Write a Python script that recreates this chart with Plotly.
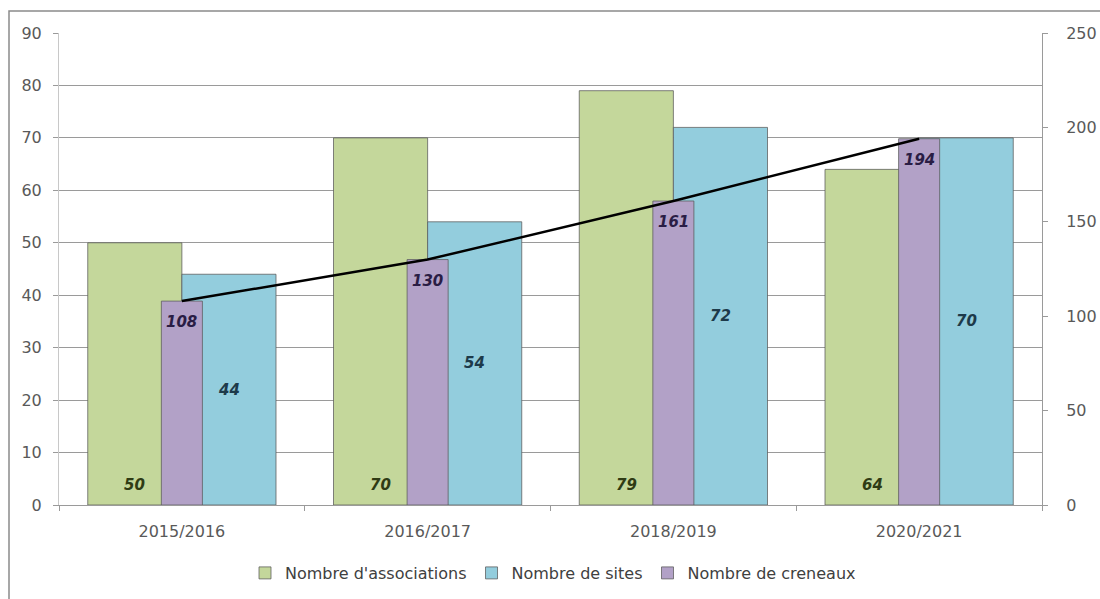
import plotly.graph_objects as go

# Seasons and series values
saisons = ["2015/2016", "2016/2017", "2018/2019", "2020/2021"]
associations = [50, 70, 79, 64]
sites = [44, 54, 72, 70]
creneaux = [108, 130, 161, 194]

VERT = "#c4d79b"
BLEU = "#93cddd"
VIOLET = "#b2a1c7"
CONTOUR = "rgba(90,90,90,0.75)"
TXT = "#595959"

x = list(range(len(saisons)))
w_main = 0.383
w_cren = 0.167

fig = go.Figure()

fig.add_trace(go.Bar(
    x=x, y=associations, name="Nombre d'associations",
    width=w_main, offset=-w_main,
    marker=dict(color=VERT, line=dict(color=CONTOUR, width=1)),
    yaxis="y",
))
fig.add_trace(go.Bar(
    x=x, y=sites, name="Nombre de sites",
    width=w_main, offset=0,
    marker=dict(color=BLEU, line=dict(color=CONTOUR, width=1)),
    yaxis="y",
))
fig.add_trace(go.Bar(
    x=x, y=creneaux, name="Nombre de creneaux",
    width=w_cren, offset=-w_cren / 2,
    marker=dict(color=VIOLET, line=dict(color=CONTOUR, width=1)),
    yaxis="y2",
))
fig.add_trace(go.Scatter(
    x=x, y=creneaux, mode="lines", showlegend=False,
    line=dict(color="black", width=2.5),
    yaxis="y2",
))

# Value labels (bold italic)
lab_font = dict(family="DejaVu Sans", size=15)
ann = []
for i in x:
    ann.append(dict(x=i - w_main / 2, y=0, xref="x", yref="y",
                    text=f"<b><i>{associations[i]}</i></b>", showarrow=False,
                    yshift=20, font=dict(lab_font, color="#2f3b14")))
    ann.append(dict(x=i + w_main / 2, y=sites[i] / 2, xref="x", yref="y",
                    text=f"<b><i>{sites[i]}</i></b>", showarrow=False,
                    font=dict(lab_font, color="#1d3a4a")))
    ann.append(dict(x=i, y=creneaux[i], xref="x", yref="y2",
                    text=f"<b><i>{creneaux[i]}</i></b>", showarrow=False,
                    yshift=-21, font=dict(lab_font, color="#2a1d45")))

# Outer chart-area frame
L, R, T, B = 59, 1042, 33, 505
def px_x(p):
    return (p - L) / (R - L)
def px_y(p):
    return (B - p) / (B - T)

fig.update_layout(
    width=1100, height=599,
    margin=dict(l=L, r=1100 - R, t=T, b=599 - B, autoexpand=False),
    paper_bgcolor="white", plot_bgcolor="white",
    barmode="overlay",
    font=dict(family="DejaVu Sans", color=TXT, size=16),
    xaxis=dict(
        range=[-0.5, 3.5], tickvals=x, ticktext=saisons,
        showgrid=False, zeroline=False, automargin=False,
        showline=True, linecolor="#9a9a9a", linewidth=1,
        ticks="", tickfont=dict(size=16, color=TXT),
        ticklabelstandoff=12,
        minor=dict(tick0=-0.5, dtick=1, ticks="outside", ticklen=5,
                   tickcolor="#9a9a9a", showgrid=False),
    ),
    yaxis=dict(
        range=[0, 90], tickvals=list(range(0, 91, 10)),
        showgrid=True, gridcolor="#9a9a9a", gridwidth=1, automargin=False,
        zeroline=False, showline=True, linecolor="#c8c8c8", linewidth=1,
        ticks="outside", ticklen=5, tickcolor="#9a9a9a",
        tickfont=dict(size=16, color=TXT), ticklabelstandoff=8,
    ),
    yaxis2=dict(
        range=[0, 250], tickvals=list(range(0, 251, 50)),
        overlaying="y", side="right", showgrid=False, zeroline=False,
        automargin=False,
        showline=True, linecolor="#9a9a9a", linewidth=1,
        ticks="outside", ticklen=5, tickcolor="#9a9a9a",
        tickfont=dict(size=16, color=TXT), ticklabelstandoff=15,
    ),
    legend=dict(
        orientation="h", x=px_x(553), xanchor="center",
        y=px_y(573), yanchor="middle",
        font=dict(size=16, color="#404040"),
        bgcolor="rgba(0,0,0,0)",
        itemwidth=30, traceorder="normal",
    ),
    annotations=ann,
    shapes=[dict(type="rect", xref="paper", yref="paper",
                 x0=px_x(9), x1=px_x(1140), y0=px_y(640), y1=px_y(11),
                 line=dict(color="#8a8a8a", width=1.5), layer="below")],
    showlegend=True,
)

fig.write_html("out.html")
